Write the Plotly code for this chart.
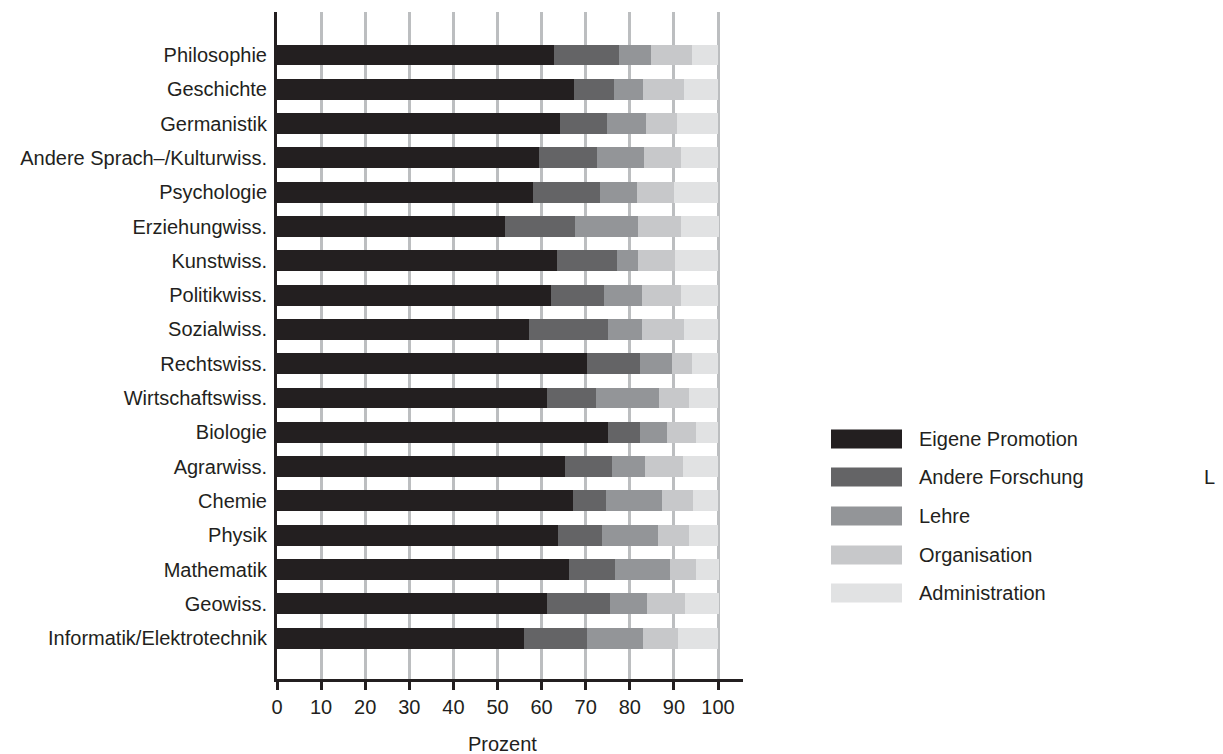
import plotly.graph_objects as go

categories = ["Philosophie", "Geschichte", "Germanistik", "Andere Sprach\u2013/Kulturwiss.",
              "Psychologie", "Erziehungwiss.", "Kunstwiss.", "Politikwiss.", "Sozialwiss.",
              "Rechtswiss.", "Wirtschaftswiss.", "Biologie", "Agrarwiss.", "Chemie", "Physik",
              "Mathematik", "Geowiss.", "Informatik/Elektrotechnik"]

eigene_promotion = [62.9, 67.4, 64.2, 59.3, 58.1, 51.8, 63.6, 62.2, 57.2, 70.4, 61.3, 75.1, 65.4, 67.2, 63.8, 66.3, 61.3, 56.1]
andere_forschung = [14.7, 9.1, 10.7, 13.3, 15.2, 15.8, 13.6, 12.0, 17.9, 12.0, 11.1, 7.1, 10.6, 7.5, 10.0, 10.4, 14.1, 14.3]
lehre = [7.1, 6.6, 8.8, 10.7, 8.4, 14.3, 4.7, 8.6, 7.7, 7.2, 14.3, 6.3, 7.5, 12.7, 12.7, 12.5, 8.6, 12.7]
organisation = [9.5, 9.3, 7.1, 8.4, 8.4, 9.6, 8.4, 8.9, 9.6, 4.6, 6.8, 6.4, 8.6, 7.0, 7.0, 5.7, 8.6, 7.9]
administration = [5.8, 7.6, 9.2, 8.3, 9.9, 8.8, 9.7, 8.3, 7.6, 5.8, 6.5, 5.1, 7.9, 5.6, 6.5, 5.4, 7.7, 9.0]

series_names = ["Eigene Promotion", "Andere Forschung", "Lehre", "Organisation", "Administration"]
series_values = [eigene_promotion, andere_forschung, lehre, organisation, administration]
colors = ["#231f20", "#646466", "#939598", "#c7c8ca", "#e1e2e3"]
x_ticks = [0, 10, 20, 30, 40, 50, 60, 70, 80, 90, 100]

# page body has an 8px margin, so work in figure pixels = screen pixels - 8
OFF = 8
W, H = 1223 - OFF, 754 - OFF
L, R, T, B = 277 - OFF, 743 - OFF, 12 - OFF, 679 - OFF
FONT = "Liberation Sans, Arial, sans-serif"
TXT = "#231f20"
FS = 20


def px_x(x):
    return (x - OFF - L) / (R - L)


def px_y(y):
    return (B - (y - OFF)) / (B - T)


fig = go.Figure()
for name, vals, col in zip(series_names, series_values, colors):
    fig.add_trace(go.Bar(
        y=categories, x=vals, name=name, orientation="h",
        marker=dict(color=col, line=dict(width=0)),
        width=0.61, showlegend=False,
    ))

n = len(categories)
row = 34.3
first_c = 55 - OFF
fig.update_layout(
    width=W, height=H,
    barmode="stack",
    plot_bgcolor="white", paper_bgcolor="white",
    margin=dict(l=L, r=W - R, t=T, b=H - B, pad=0),
    font=dict(family=FONT, size=FS, color=TXT),
    xaxis=dict(
        range=[0, (R - L) / 4.41], tickvals=x_ticks, ticktext=[str(v) for v in x_ticks],
        showgrid=True, gridcolor="#bcbec0", gridwidth=3,
        showline=True, linecolor=TXT, linewidth=3,
        ticks="outside", ticklen=8, tickwidth=2.5, tickcolor=TXT,
        zeroline=False, tickfont=dict(size=FS, color=TXT),
    ),
    yaxis=dict(
        type="category", categoryorder="array", categoryarray=categories,
        range=[n - 0.5 + (B - (first_c + 17 * row + row / 2)) / row,
               -0.5 - (first_c - row / 2 - T) / row],
        showgrid=False, showline=True, linecolor=TXT, linewidth=3,
        ticks="", ticklabelstandoff=3, tickfont=dict(size=FS, color=TXT),
        zeroline=False,
    ),
)

# x-axis title
fig.add_annotation(text="Prozent", xref="paper", yref="paper",
                   x=px_x(502), y=px_y(744),
                   showarrow=False, font=dict(size=FS, color=TXT),
                   xanchor="center", yanchor="middle")

# legend drawn with wide swatches like the reference
leg_y = [439, 477, 516, 555, 593]
for name, col, yy in zip(series_names, colors, leg_y):
    fig.add_shape(type="rect", xref="paper", yref="paper",
                  x0=px_x(831), x1=px_x(902), y0=px_y(yy + 9.5), y1=px_y(yy - 9.5),
                  fillcolor=col, line=dict(width=0))
    fig.add_annotation(text=name, xref="paper", yref="paper",
                       x=px_x(917), y=px_y(yy),
                       showarrow=False, xanchor="left", yanchor="middle",
                       font=dict(size=FS, color=TXT))

fig.add_annotation(text="L", xref="paper", yref="paper",
                   x=px_x(1209), y=px_y(477),
                   showarrow=False, xanchor="center", yanchor="middle",
                   font=dict(size=FS, color=TXT))

fig.write_html("out.html")
